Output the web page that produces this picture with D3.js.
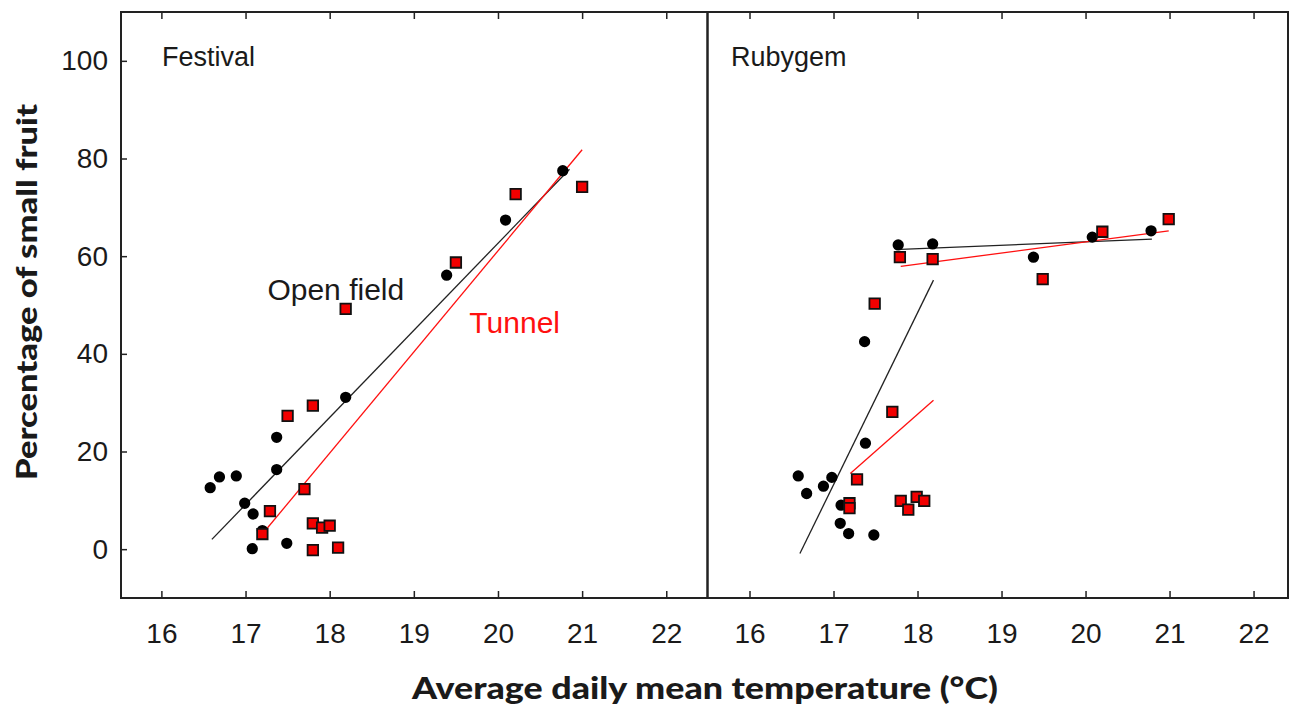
<!DOCTYPE html>
<html>
<head>
<meta charset="utf-8">
<script src="https://cdn.jsdelivr.net/npm/d3@7"></script>
<style>
  body { margin: 0; background: #fff; }
  svg { display: block; }
</style>
</head>
<body>
<div id="chart"></div>
<script>
// temperature (deg C) and % small fruit
const festivalOpen = [
  [16.58, 12.6], [16.69, 14.8], [16.89, 15.0], [16.99, 9.4], [17.09, 7.2],
  [17.08, 0.1], [17.2, 3.8], [17.37, 16.3], [17.37, 22.9], [17.49, 1.2],
  [18.19, 31.1], [19.39, 56.1], [20.09, 67.4], [20.77, 77.5]
];
const festivalTunnel = [
  [17.2, 3.1], [17.29, 7.8], [17.5, 27.3], [17.7, 12.3], [17.8, 29.4],
  [17.8, 5.3], [17.91, 4.4], [18.0, 4.8], [17.8, -0.2], [18.1, 0.3],
  [18.19, 49.2], [19.5, 58.7], [20.21, 72.7], [21.0, 74.2]
];
const rubygemOpen = [
  [16.58, 15.0], [16.68, 11.4], [16.88, 12.9], [16.98, 14.7], [17.09, 9.0],
  [17.08, 5.3], [17.18, 3.2], [17.48, 2.9], [17.38, 21.7], [17.37, 42.5],
  [17.77, 62.3], [18.18, 62.5], [19.38, 59.8], [20.08, 63.9], [20.78, 65.2]
];
const rubygemTunnel = [
  [17.19, 9.4], [17.19, 8.4], [17.28, 14.3], [17.7, 28.1], [17.49, 50.3],
  [17.8, 9.9], [17.89, 8.1], [17.99, 10.7], [18.08, 9.9], [17.79, 59.8],
  [18.18, 59.4], [19.49, 55.3], [20.2, 65.0], [20.99, 67.6]
];

// fitted lines (end points)
const festivalOpenFit = [[[16.6, 2.0], [20.85, 77.8]]];
const festivalTunnelFit = [[[17.2, 3.1], [21.0, 81.8]]];
const rubygemOpenFit = [[[16.6, -0.9], [18.19, 55.1]], [[17.8, 61.4], [20.79, 63.5]]];
const rubygemTunnelFit = [[[17.2, 15.5], [18.19, 30.5]], [[17.8, 57.9], [20.99, 65.2]]];

const xTicks = [16, 17, 18, 19, 20, 21, 22];
const yTicks = [0, 20, 40, 60, 80, 100];

const width = 1294;
const height = 706;
const plotTop = 12;
const plotBottom = 598;

const panels = [
  { title: "Festival", titleX: 162, x0: 121, x1: 707.5, domain: [15.52, 22.49],
    open: festivalOpen, tunnel: festivalTunnel,
    openFit: festivalOpenFit, tunnelFit: festivalTunnelFit },
  { title: "Rubygem", titleX: 731, x0: 707.5, x1: 1288, domain: [15.5, 22.41],
    open: rubygemOpen, tunnel: rubygemTunnel,
    openFit: rubygemOpenFit, tunnelFit: rubygemTunnelFit }
];

const svg = d3.select("#chart").append("svg")
  .attr("width", width)
  .attr("height", height);

const y = d3.scaleLinear().domain([-10, 110]).range([plotBottom, plotTop]);
const tickFont = "'Liberation Sans', Arial, sans-serif";

panels.forEach((p, i) => {
  const x = d3.scaleLinear().domain(p.domain).range([p.x0, p.x1]);
  const g = svg.append("g");

  // bottom axis, ticks pointing in
  const xa = g.append("g")
    .attr("transform", "translate(0," + plotBottom + ")")
    .call(d3.axisBottom(x).tickValues(xTicks).tickFormat(d3.format("d"))
      .tickSizeInner(-7).tickSizeOuter(0).tickPadding(25));
  xa.select(".domain").remove();
  xa.selectAll("line").attr("stroke", "#222").attr("stroke-width", 1.5);
  xa.selectAll("text").attr("font-family", tickFont).attr("font-size", 28).attr("fill", "#1a1a1a");

  // top ticks
  const xt = g.append("g")
    .attr("transform", "translate(0," + plotTop + ")")
    .call(d3.axisTop(x).tickValues(xTicks).tickSizeInner(-7).tickSizeOuter(0).tickFormat(""));
  xt.select(".domain").remove();
  xt.selectAll("line").attr("stroke", "#222").attr("stroke-width", 1.5);

  if (i === 0) {
    const ya = g.append("g")
      .attr("transform", "translate(" + p.x0 + ",0)")
      .call(d3.axisLeft(y).tickValues(yTicks).tickSizeInner(-6).tickSizeOuter(0).tickPadding(13));
    ya.select(".domain").remove();
    ya.selectAll("line").attr("stroke", "#222").attr("stroke-width", 1.5);
    ya.selectAll("text").attr("font-family", tickFont).attr("font-size", 28).attr("fill", "#1a1a1a");
  }

  // frame
  g.append("rect")
    .attr("x", p.x0).attr("y", plotTop)
    .attr("width", p.x1 - p.x0).attr("height", plotBottom - plotTop)
    .attr("fill", "none").attr("stroke", "#222").attr("stroke-width", 2);

  g.append("text")
    .attr("x", p.titleX).attr("y", 66)
    .attr("font-family", tickFont).attr("font-size", 27).attr("fill", "#1a1a1a")
    .text(p.title);

  const line = d3.line().x(d => x(d[0])).y(d => y(d[1]));

  g.selectAll(".fit-open").data(p.openFit).enter().append("path")
    .attr("d", line).attr("fill", "none").attr("stroke", "#222").attr("stroke-width", 1.3);
  g.selectAll(".fit-tunnel").data(p.tunnelFit).enter().append("path")
    .attr("d", line).attr("fill", "none").attr("stroke", "#ff1010").attr("stroke-width", 1.3);

  g.selectAll(".pt-open").data(p.open).enter().append("path")
    .attr("transform", d => "translate(" + x(d[0]) + "," + y(d[1]) + ")")
    .attr("d", d3.symbol().type(d3.symbolCircle).size(100))
    .attr("fill", "#000");

  g.selectAll(".pt-tunnel").data(p.tunnel).enter().append("path")
    .attr("transform", d => "translate(" + x(d[0]) + "," + y(d[1]) + ")")
    .attr("d", d3.symbol().type(d3.symbolSquare).size(110))
    .attr("fill", "#f20000").attr("stroke", "#111").attr("stroke-width", 1.8);

  if (i === 0) {
    g.append("text")
      .attr("x", x(17.26)).attr("y", 300)
      .attr("font-family", tickFont).attr("font-size", 30).attr("fill", "#1a1a1a")
      .text("Open field");
    g.append("text")
      .attr("x", x(19.66)).attr("y", 333)
      .attr("font-family", tickFont).attr("font-size", 30).attr("fill", "#ff1010")
      .text("Tunnel");
  }
});

// axis titles
const titleFont = "Lato, 'Open Sans', sans-serif";
svg.append("text")
  .attr("x", 705).attr("y", 699)
  .attr("text-anchor", "middle")
  .attr("font-family", titleFont).attr("font-weight", 900).attr("font-size", 30)
  .attr("fill", "#1a1a1a")
  .attr("textLength", 586).attr("lengthAdjust", "spacingAndGlyphs")
  .text("Average daily mean temperature (°C)");

svg.append("text")
  .attr("transform", "translate(37,292) rotate(-90)")
  .attr("text-anchor", "middle")
  .attr("font-family", titleFont).attr("font-weight", 900).attr("font-size", 29)
  .attr("fill", "#1a1a1a")
  .attr("textLength", 376).attr("lengthAdjust", "spacingAndGlyphs")
  .text("Percentage of small fruit");
</script>
</body>
</html>
